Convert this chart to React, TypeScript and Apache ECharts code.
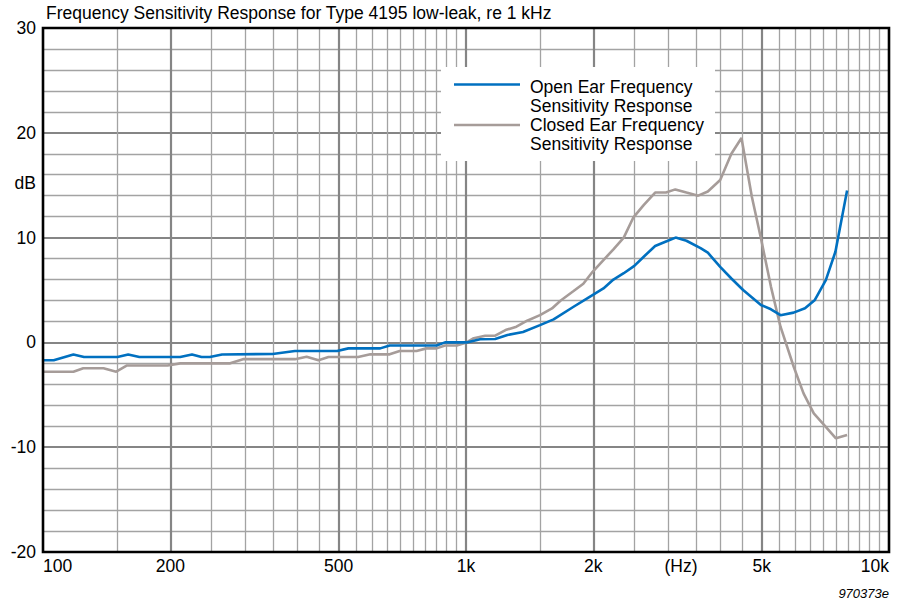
import React, { useEffect, useRef } from "react";
import * as echarts from "echarts";

// ---------- data ----------
const FREQ_TICKS = [100, 200, 500, 1000, 2000, 5000, 10000];
const FREQ_TICK_LABELS = ["100", "200", "500", "1k", "2k", "5k", "10k"];
const MAJOR_GRID_FREQS = [200, 500, 1000, 2000, 5000];
const MINOR_GRID_FREQS = [
  150, 250, 300, 350, 400, 450, 550, 600, 650, 700, 750, 800, 850, 900, 950,
  1500, 2500, 3000, 3500, 4000, 4500, 5500, 6000, 6500, 7000, 7500, 8000, 8500, 9000, 9500,
];
const DB_MIN = -20;
const DB_MAX = 30;
const DB_STEP = 10;

const OPEN_FREQ = [
  100, 106, 118, 125, 150, 159, 169, 211, 225, 237, 248, 265, 349, 394, 496, 527, 627, 660,
  852, 892, 1003, 1080, 1172, 1253, 1364, 1496, 1611, 1796, 1969, 2113, 2231, 2360, 2500,
  2635, 2800, 2990, 3130, 3320, 3585, 3730, 3990, 4240, 4520, 4980, 5260, 5540, 5950, 6330,
  6680, 7090, 7470, 7960,
];
const OPEN_DB = [
  -1.7, -1.7, -1.15, -1.4, -1.4, -1.15, -1.4, -1.4, -1.15, -1.4, -1.4, -1.15, -1.1, -0.82,
  -0.82, -0.57, -0.57, -0.3, -0.3, 0, 0, 0.3, 0.32, 0.7, 1.0, 1.65, 2.2, 3.4, 4.4, 5.15, 6.0,
  6.6, 7.3, 8.2, 9.2, 9.67, 10.0, 9.7, 9.0, 8.56, 7.2, 6.1, 5.0, 3.57, 3.16, 2.6, 2.84, 3.25,
  4.05, 5.95, 8.65, 14.5,
];

const CLOSED_FREQ = [
  100, 118, 124.5, 139, 149, 158, 197, 211, 277, 297, 394, 420, 448, 473, 556, 594, 660, 697,
  764, 806, 852, 892, 951, 1003, 1043, 1110, 1172, 1240, 1316, 1395, 1496, 1597, 1672, 1796,
  1894, 1992, 2113, 2231, 2360, 2485, 2630, 2800, 2970, 3125, 3320, 3540, 3730, 3990, 4240,
  4480, 4740, 4980, 5260, 5540, 5950, 6280, 6640, 7080, 7490, 7960,
];
const CLOSED_DB = [
  -2.8, -2.8, -2.47, -2.47, -2.8, -2.2, -2.2, -2.0, -2.0, -1.6, -1.6, -1.36, -1.7, -1.4, -1.4,
  -1.14, -1.14, -0.82, -0.82, -0.57, -0.57, -0.3, -0.3, 0, 0.4, 0.64, 0.64, 1.18, 1.5, 2.07,
  2.6, 3.24, 3.98, 4.9, 5.6, 6.74, 7.86, 8.87, 10.0, 11.9, 13.1, 14.3, 14.3, 14.6, 14.3, 14.0,
  14.4, 15.5, 18.0, 19.5, 13.9, 9.93, 5.3, 1.5, -2.3, -4.86, -6.77, -8.04, -9.15, -8.84,
];

const OPEN_NAME = "Open Ear Frequency\nSensitivity Response";
const CLOSED_NAME = "Closed Ear Frequency\nSensitivity Response";
const TITLE = "Frequency Sensitivity Response for Type 4195 low-leak, re 1 kHz";

// ---------- styles ----------
const FONT = "'Liberation Sans', Arial, Helvetica, sans-serif";
const FS = 17.5;
const BLUE = "#0070C0";
const GRAY = "#A69C99";
const MAJOR_GRID = "#858585";
const MINOR_GRID = "#a3a3a3";
const GRID = { left: 43, right: 17, top: 28, bottom: 51 };
const W = 906;
const H = 603;

const lg = (f: number) => Math.log10(f);

function tickLabel(v: number): string {
  const i = FREQ_TICKS.findIndex((f) => Math.abs(lg(f) - v) < 1e-6);
  return i >= 0 ? FREQ_TICK_LABELS[i] : "";
}

export default function App() {
  const ref = useRef<HTMLDivElement>(null);

  useEffect(() => {
    if (!ref.current) return;
    const chart = echarts.init(ref.current, null, { renderer: "svg" });
    const plotW = W - GRID.left - GRID.right;
    const plotH = H - GRID.top - GRID.bottom;

    const legendX = 441;
    const legendY = 67;

    chart.setOption({
      animation: false,
      backgroundColor: "#fff",
      textStyle: { fontFamily: FONT },
      grid: { ...GRID, containLabel: false },
      xAxis: [
        {
          type: "value",
          min: 2,
          max: 4,
          axisLine: { show: false },
          axisTick: { show: false, customValues: MAJOR_GRID_FREQS.map(lg) },
          splitLine: { show: true, lineStyle: { color: MAJOR_GRID, width: 2.2 } },
          axisLabel: {
            customValues: FREQ_TICKS.map(lg),
            formatter: tickLabel,
            fontSize: FS,
            fontFamily: FONT,
            color: "#000",
            margin: 5,
            alignMinLabel: "left",
            alignMaxLabel: "right",
          },
        },
        {
          type: "value",
          min: 2,
          max: 4,
          position: "top",
          axisLine: { show: false },
          axisTick: { show: false, customValues: MINOR_GRID_FREQS.map(lg) },
          axisLabel: { show: false },
          splitLine: { show: true, lineStyle: { color: MINOR_GRID, width: 1.3 } },
        },
      ],
      yAxis: {
        type: "value",
        min: DB_MIN,
        max: DB_MAX,
        interval: DB_STEP,
        axisLine: { show: false },
        axisTick: { show: false },
        splitLine: { show: true, lineStyle: { color: MAJOR_GRID, width: 2.2 } },
        minorTick: { show: false, splitNumber: 5 },
        minorSplitLine: { show: true, lineStyle: { color: MINOR_GRID, width: 1.3 } },
        axisLabel: { fontSize: FS, fontFamily: FONT, color: "#000", margin: 7 },
      },
      series: [
        {
          name: OPEN_NAME,
          type: "line",
          xAxisIndex: 0,
          showSymbol: false,
          symbol: "none",
          z: 5,
          lineStyle: { color: BLUE, width: 2.6 },
          itemStyle: { color: BLUE },
          data: OPEN_FREQ.map((f, i) => [lg(f), OPEN_DB[i]]),
        },
        {
          name: CLOSED_NAME,
          type: "line",
          xAxisIndex: 0,
          showSymbol: false,
          symbol: "none",
          z: 4,
          lineStyle: { color: GRAY, width: 2.6 },
          itemStyle: { color: GRAY },
          data: CLOSED_FREQ.map((f, i) => [lg(f), CLOSED_DB[i]]),
        },
      ],
      graphic: [
        {
          type: "rect",
          z: 20,
          silent: true,
          shape: { x: GRID.left, y: GRID.top, width: plotW, height: plotH },
          style: { fill: "none", stroke: "#000", lineWidth: 2.6 },
        },
        {
          type: "text",
          z: 20,
          x: 46,
          y: 13,
          style: {
            text: TITLE,
            fontSize: FS,
            fontFamily: FONT,
            fill: "#000",
            textAlign: "left",
            textVerticalAlign: "middle",
          },
        },
        {
          type: "text",
          z: 20,
          x: 36,
          y: 183,
          style: {
            text: "dB",
            fontSize: FS,
            fontFamily: FONT,
            fill: "#000",
            textAlign: "right",
            textVerticalAlign: "middle",
          },
        },
        {
          type: "text",
          z: 20,
          x: 681,
          y: 566,
          style: {
            text: "(Hz)",
            fontSize: FS,
            fontFamily: FONT,
            fill: "#000",
            textAlign: "center",
            textVerticalAlign: "middle",
          },
        },
        {
          type: "text",
          z: 20,
          x: 889,
          y: 593,
          style: {
            text: "970373e",
            fontSize: 13,
            fontStyle: "italic",
            fontFamily: FONT,
            fill: "#000",
            textAlign: "right",
            textVerticalAlign: "middle",
          },
        },
        {
          type: "group",
          z: 30,
          children: [
            {
              type: "rect",
              z: 30,
              shape: { x: legendX, y: legendY, width: 274, height: 94 },
              style: { fill: "#fff", stroke: "none" },
            },
            {
              type: "line",
              z: 31,
              shape: { x1: 454, y1: 84.5, x2: 520, y2: 84.5 },
              style: { stroke: BLUE, lineWidth: 2.6 },
            },
            {
              type: "line",
              z: 31,
              shape: { x1: 454, y1: 125, x2: 520, y2: 125 },
              style: { stroke: GRAY, lineWidth: 2.6 },
            },
            {
              type: "text",
              z: 31,
              x: 530,
              y: 77.5,
              style: {
                text: OPEN_NAME,
                fontSize: FS,
                lineHeight: 19,
                fontFamily: FONT,
                fill: "#000",
                textAlign: "left",
                textVerticalAlign: "top",
              },
            },
            {
              type: "text",
              z: 31,
              x: 530,
              y: 115.5,
              style: {
                text: CLOSED_NAME,
                fontSize: FS,
                lineHeight: 19,
                fontFamily: FONT,
                fill: "#000",
                textAlign: "left",
                textVerticalAlign: "top",
              },
            },
          ],
        },
      ],
    });
    return () => chart.dispose();
  }, []);

  return (
    <div
      ref={ref}
      style={{ position: "absolute", left: 0, top: 0, width: W, height: H, background: "#fff" }}
    />
  );
}
